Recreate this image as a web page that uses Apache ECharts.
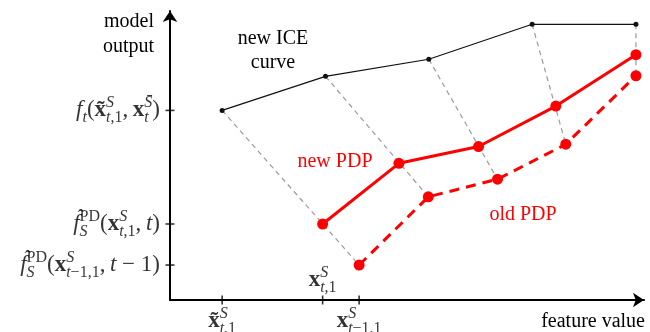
<!DOCTYPE html>
<html>
<head>
<meta charset="utf-8">
<script src="https://cdn.jsdelivr.net/npm/echarts@6/dist/echarts.min.js"></script>
<style>
  html, body { margin: 0; padding: 0; background: #fff; }
  #chart { width: 650px; height: 332px; }
</style>
</head>
<body>
<div id="chart"></div>
<script>
// abstract feature / output units, axes run 0..100
const iceX = [11.0, 32.8, 54.6, 76.4, 98.3]
const iceY = [65.6, 77.4, 83.3, 95.4, 95.4]
const newX = [32.2, 48.3, 65.1, 81.4, 98.3]
const newY = [26.3, 47.3, 53.1, 67.1, 84.9]
const oldX = [39.9, 54.5, 69.1, 83.5, 98.3]
const oldY = [12.1, 35.7, 41.8, 53.9, 77.6]

// ticks sit at the first point of each curve
const xTicks = [iceX[0], newX[0], oldX[0]]
const yTicks = [iceY[0], newY[0], oldY[0]]

const xTickLabels = [
  '{b|x\u0303}{supIz|S}{subI|t}{subR|,1}',
  '{b|x}{supIz|S}{subI|t}{subR|,1}',
  '{b|x}{supIz|S}{subI|t}{subR|\u22121,1}'
]
const yTickLabels = [
  '{i|f}{subI|t}{n|(}{b|x\u0303}{supIz|S}{subI|t}{subR|,1}{n|,\u2009}{b|x}{subIz|t}{supI|S\u0304}{n|)}',
  '{hat|\u2005\u02C6}{i|f}{subIz|S}{supR|PD}{n|(}{b|x}{supIz|S}{subI|t}{subR|,1}{n|,\u2009}{i|t}{n|)}',
  '{hat|\u2005\u02C6}{i|f}{subIz|S}{supR|PD}{n|(}{b|x}{supIz|S}{subI|t}{subR|\u22121,1}{n|,\u2009}{i|t}{n|\u2005\u2212\u20051)}'
]

const SERIF = '"Liberation Serif", "DejaVu Serif", serif'
const RED = '#ff0000'

const base = { fontFamily: SERIF, color: '#000', align: 'left' }
const main = { ...base, fontSize: 23, lineHeight: 31 }
const sup = { ...base, fontSize: 16, lineHeight: 16, verticalAlign: 'top' }
const sub = { ...base, fontSize: 16, lineHeight: 16, verticalAlign: 'bottom' }
const rich = {
  n: main,
  i: { ...main, fontStyle: 'italic' },
  b: { ...main, fontWeight: 'bold' },
  hat: { ...base, fontSize: 18, lineHeight: 8, verticalAlign: 'top', width: 0 },
  supI: { ...sup, fontStyle: 'italic' },
  supIz: { ...sup, fontStyle: 'italic', width: 0 },
  supR: sup,
  subI: { ...sub, fontStyle: 'italic' },
  subIz: { ...sub, fontStyle: 'italic', width: 0 },
  subR: sub
}

const zip = (xs, ys) => xs.map((x, i) => [x, ys[i]])

const connectors = iceX.map((x, i) => ({
  type: 'line',
  data: [[x, iceY[i]], [oldX[i], oldY[i]]],
  symbol: 'none',
  silent: true,
  z: 1,
  lineStyle: { color: '#9a9a9a', width: 1.2, type: [5, 4] }
}))

const chart = echarts.init(document.getElementById('chart'))

chart.setOption({
  animation: false,
  grid: { left: 170, right: 6, top: 11, bottom: 32 },
  xAxis: {
    type: 'value',
    min: 0,
    max: 100,
    name: 'feature value',
    nameLocation: 'end',
    nameGap: 1,
    nameTextStyle: {
      fontFamily: SERIF, fontSize: 20, color: '#000',
      align: 'right', verticalAlign: 'top', padding: [12, 0, 0, 0]
    },
    axisLine: {
      lineStyle: { color: '#000', width: 2 },
      symbol: ['none', 'arrow'],
      symbolSize: [11, 11]
    },
    axisTick: { show: false },
    axisLabel: { show: false },
    splitLine: { show: false }
  },
  yAxis: {
    type: 'value',
    min: 0,
    max: 100,
    name: 'model\noutput',
    nameLocation: 'end',
    nameGap: 1.5,
    nameTextStyle: {
      fontFamily: SERIF, fontSize: 20, color: '#000', lineHeight: 25,
      align: 'right', verticalAlign: 'top', padding: [0, 16, 0, 0]
    },
    axisLine: {
      lineStyle: { color: '#000', width: 2 },
      symbol: ['none', 'arrow'],
      symbolSize: [11, 11]
    },
    axisTick: { show: false },
    axisLabel: { show: false },
    splitLine: { show: false }
  },
  graphic: [
    {
      type: 'text', x: 273, y: 27,
      style: {
        text: 'new ICE\ncurve', font: '20px ' + SERIF, fill: '#000',
        align: 'center', verticalAlign: 'top', lineHeight: 24
      }
    },
    {
      type: 'text', x: 335, y: 162,
      style: { text: 'new PDP', font: '20px ' + SERIF, fill: RED, align: 'center', verticalAlign: 'middle' }
    },
    {
      type: 'text', x: 523, y: 215,
      style: { text: 'old PDP', font: '20px ' + SERIF, fill: RED, align: 'center', verticalAlign: 'middle' }
    }
  ],
  series: [
    ...connectors,
    {
      name: 'new ICE curve',
      type: 'line',
      data: zip(iceX, iceY),
      z: 3,
      symbol: 'circle',
      symbolSize: 5,
      itemStyle: { color: '#111' },
      lineStyle: { color: '#111', width: 1.2 }
    },
    {
      name: 'old PDP',
      type: 'line',
      data: zip(oldX, oldY),
      z: 4,
      symbol: 'circle',
      symbolSize: 11,
      itemStyle: { color: RED },
      lineStyle: { color: RED, width: 3, type: [10, 7] }
    },
    {
      name: 'new PDP',
      type: 'line',
      data: zip(newX, newY),
      z: 5,
      symbol: 'circle',
      symbolSize: 11,
      itemStyle: { color: RED },
      lineStyle: { color: RED, width: 3 }
    },
    {
      type: 'scatter',
      silent: true,
      clip: false,
      z: 6,
      symbol: 'rect',
      symbolSize: [1.6, 9],
      itemStyle: { color: '#000' },
      data: xTicks.map((v, i) => ({
        value: [v, 0],
        label: i === 1 ? { position: 'top', distance: 0 } : { position: 'bottom', distance: 1 }
      })),
      label: {
        show: true,
        formatter: p => xTickLabels[p.dataIndex],
        rich
      }
    },
    {
      type: 'scatter',
      silent: true,
      clip: false,
      z: 6,
      symbol: 'rect',
      symbolSize: [9, 1.6],
      itemStyle: { color: '#000' },
      data: yTicks.map(v => [0, v]),
      label: {
        show: true,
        position: 'left',
        distance: 5.5,
        formatter: p => yTickLabels[p.dataIndex],
        rich
      }
    }
  ]
})
</script>
</body>
</html>
